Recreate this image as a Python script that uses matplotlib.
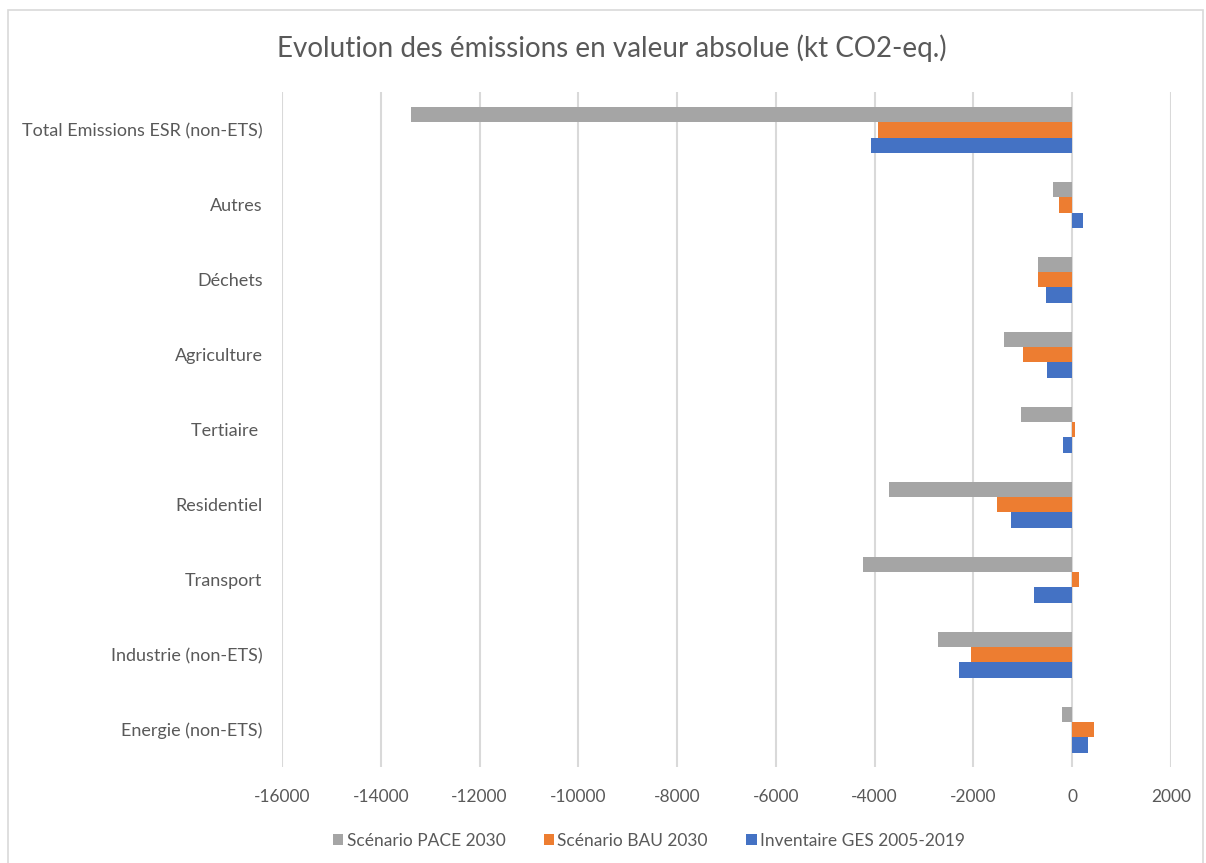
import numpy as np
from matplotlib import pyplot as plt
from matplotlib.patches import Rectangle

categories = ["Total Emissions ESR (non-ETS)", "Autres", "Déchets", "Agriculture",
              "Tertiaire ", "Residentiel", "Transport", "Industrie (non-ETS)", "Energie (non-ETS)"]
pace_2030 = [-13390, -385, -690, -1380, -1035, -3710, -4240, -2720, -200]
bau_2030 = [-3935, -265, -690, -995, 60, -1520, 140, -2050, 445]
inventaire = [-4080, 220, -525, -505, -185, -1235, -770, -2290, 325]
series_names = ["Scénario PACE 2030", "Scénario BAU 2030", "Inventaire GES 2005-2019"]
xticks = np.arange(-16000, 2001, 2000)

plt.rcParams['font.family'] = ['Lato', 'DejaVu Sans']
text_col = '#595959'

fig = plt.figure(figsize=(12.06, 8.63), dpi=100)
ax = fig.add_axes([0.2338, 0.111, 0.7372, 0.782])

y = np.arange(len(categories))[::-1].astype(float)
h = 0.205
ax.barh(y + h, pace_2030, height=h, color='#A5A5A5', label=series_names[0], zorder=3)
ax.barh(y, bau_2030, height=h, color='#ED7D31', label=series_names[1], zorder=3)
ax.barh(y - h, inventaire, height=h, color='#4472C4', label=series_names[2], zorder=3)

ax.set_xlim(-16000, 2000)
ax.set_ylim(-0.5, len(categories) - 0.5)
ax.set_xticks(xticks)
ax.set_xticklabels([str(v) for v in xticks], fontsize=12.5, color=text_col)
ax.set_yticks(y)
ax.set_yticklabels(categories, fontsize=13, color=text_col)
ax.tick_params(axis='both', length=0)
ax.tick_params(axis='x', pad=16)
ax.tick_params(axis='y', pad=14)
ax.grid(axis='x', color='#D9D9D9', linewidth=1.5, zorder=0)
for s in ax.spines.values():
    s.set_visible(False)

fig.text(0.507, 0.944, "Evolution des émissions en valeur absolue (kt CO2-eq.)",
         ha='center', va='center', fontsize=20, color=text_col)

leg = fig.legend(loc='center', bbox_to_anchor=(0.538, 0.026), ncol=3, frameon=False,
                 fontsize=12.5, handlelength=0.6, handleheight=0.6, handletextpad=0.2,
                 columnspacing=2.2)
for t in leg.get_texts():
    t.set_color(text_col)

fig.patches.append(Rectangle((8 / 1206, -0.01), 1195 / 1206, 1 - 10 / 863 + 0.01,
                             transform=fig.transFigure, fill=False,
                             edgecolor='#D9D9D9', linewidth=1.2))

fig.savefig("out.png", dpi=100)
